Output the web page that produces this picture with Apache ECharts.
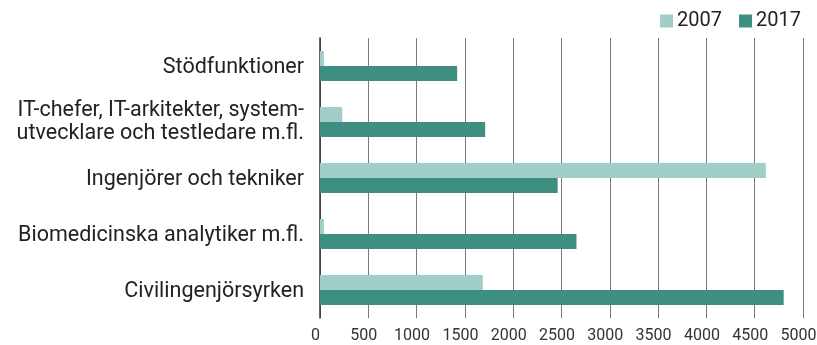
<!DOCTYPE html>
<html>
<head>
<meta charset="utf-8">
<script src="https://cdn.jsdelivr.net/npm/echarts@6/dist/echarts.min.js"></script>
<style>html,body{margin:0;padding:0;background:#fff}#c{width:817px;height:345px}</style>
</head>
<body>
<div id="c"></div>
<script>
const categories = [
  'Stödfunktioner',
  'IT-chefer, IT-arkitekter, system-\nutvecklare och testledare m.fl.',
  'Ingenjörer och tekniker',
  'Biomedicinska analytiker m.fl.',
  'Civilingenjörsyrken'
];
const seriesNames = ['2007', '2017'];
const values2007 = [40, 230, 4615, 40, 1685];
const values2017 = [1420, 1710, 2460, 2655, 4800];
const xTicks = { min: 0, max: 5000, interval: 500 };

const chart = echarts.init(document.getElementById('c'), null, { renderer: 'canvas' });
const font = 'Roboto, "Noto Sans", sans-serif';
chart.setOption({
  animation: false,
  textStyle: { fontFamily: font },
  legend: {
    data: seriesNames,
    top: 6, right: 11,
    itemWidth: 13, itemHeight: 13, itemGap: 17,
    icon: 'rect',
    textStyle: { fontSize: 20, color: '#222', fontFamily: font, padding: [0, 0, 0, -1] }
  },
  grid: { left: 320, right: 14, top: 38, bottom: 27, containLabel: false, outerBoundsMode: 'none' },
  xAxis: {
    type: 'value', min: xTicks.min, max: xTicks.max, interval: xTicks.interval,
    axisLine: { show: false }, axisTick: { show: false },
    splitLine: { show: true, lineStyle: { color: '#7a7a7a', width: 1 } },
    axisLabel: { fontSize: 16, color: '#333', margin: 10, fontFamily: font, padding: [0, 9, 0, 0], formatter: v => String(v) }
  },
  yAxis: {
    type: 'category', data: categories, inverse: true,
    axisLine: { show: true, lineStyle: { color: '#333', width: 1.5 } },
    axisTick: { show: false },
    axisLabel: {
      fontSize: 21.5, color: '#222', margin: 16, lineHeight: 23.5, align: 'right', fontFamily: font,
      formatter: v => v.indexOf('\n') >= 0 ? v : '{s|' + v + '}',
      rich: { s: { fontSize: 21.5, color: '#222', fontFamily: font, lineHeight: 23.5, padding: [4, 0, 0, 0] } }
    }
  },
  series: [
    { name: '2007', type: 'bar', data: values2007, barWidth: 15, barGap: '0%', itemStyle: { color: '#a0cdc8' } },
    { name: '2017', type: 'bar', data: values2017, barWidth: 15, barGap: '0%', itemStyle: { color: '#3e8e82' } }
  ]
});
</script>
</body>
</html>
